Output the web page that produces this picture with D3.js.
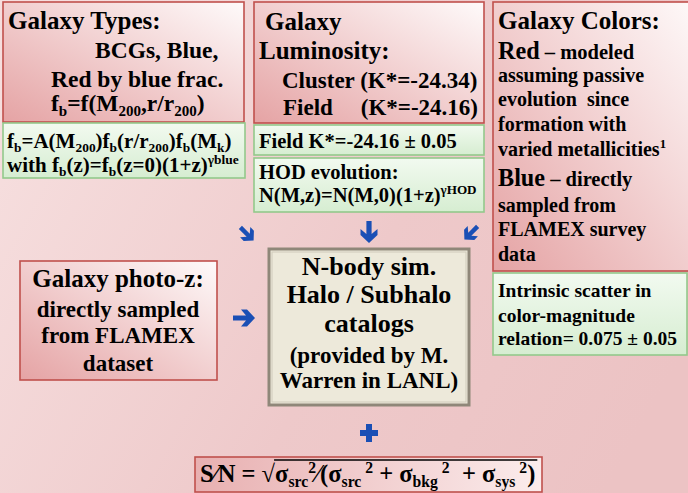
<!DOCTYPE html>
<html><head><meta charset="utf-8">
<script src="https://cdn.jsdelivr.net/npm/d3@7"></script>
<style>
html,body{margin:0;padding:0;overflow:hidden;background:#eec8c9;}
svg{display:block;}
</style>
</head><body>
<script>
// ---- content (text of each box) ----
const typesLines = ["Galaxy Types:", "BCGs, Blue,", "Red by blue frac.", "f_{b}=f(M_{200},r/r_{200})"];
const typesNote = ["f_{b}=A(M_{200})f_{b}(r/r_{200})f_{b}(M_{k})", "with f_{b}(z)=f_{b}(z=0)(1+z)^{γblue}"];
const lumLines = ["Galaxy", "Luminosity:", "Cluster (K*=-24.34)", "Field", "(K*=-24.16)"];
const lumNote = ["Field K*=-24.16 ± 0.05"];
const hodLines = ["HOD evolution:", "N(M,z)=N(M,0)(1+z)^{γHOD}"];
const colorLines = ["Galaxy Colors:", "!{Red} – modeled", "assuming passive", "evolution\u00a0 since", "formation with",
  "varied metallicities^{1}", "!{Blue} – directly", "sampled from", "FLAMEX survey", "data"];
const colorNote = ["Intrinsic scatter in", "color-magnitude", "relation= 0.075 ± 0.05"];
const photozLines = ["Galaxy photo-z:", "directly sampled", "from FLAMEX", "dataset"];
const nbodyLines = ["N-body sim.", "Halo / Subhalo", "catalogs", "(provided by M.", "Warren in LANL)"];
const snLine = "S⁄N = √σ_{src}^{2}⁄(σ_{src}^{\u00a02} + σ_{bkg}^{\u00a02}\u00a0 + σ_{sys}^{\u00a02})";

// ---- layout ----
const W = 688, H = 493;
const FONT = "Liberation Serif";
const svg = d3.select("body").append("svg").attr("width", W).attr("height", H);
const defs = svg.append("defs");

function grad(id, x1, y1, x2, y2, stops) {
  const g = defs.append("linearGradient").attr("id", id)
    .attr("x1", x1).attr("y1", y1).attr("x2", x2).attr("y2", y2);
  stops.forEach(s => g.append("stop").attr("offset", s[0]).attr("stop-color", s[1]));
}
grad("bg", 0, 0.3, 1, 0.7, [[0, "#f6dede"], [0.55, "#eec9ca"], [1, "#ecc3c4"]]);
grad("red", 1, 0, 0, 1, [[0, "#fefafa"], [1, "#e5a3a4"]]);
grad("green", 0, 0, 0, 1, [[0, "#f2faf0"], [1, "#d6edd1"]]);
grad("sn", 0, 0, 1, 0, [[0, "#e8b0b1"], [1, "#fbecec"]]);

svg.append("rect").attr("width", W).attr("height", H).attr("fill", "url(#bg)");

function box(x, y, w, h, kind) {
  const fill = kind === "green" ? "url(#green)" : kind === "sn" ? "url(#sn)" : "url(#red)";
  const stroke = kind === "green" ? "#93c98b" : "#c0504d";
  svg.append("rect").attr("x", x).attr("y", y).attr("width", w).attr("height", h)
    .attr("fill", fill).attr("stroke", stroke).attr("stroke-width", 1.6);
}

function parse(s) {
  const out = []; let i = 0, buf = "";
  while (i < s.length) {
    const c = s[i];
    if ((c === "_" || c === "^" || c === "!") && s[i + 1] === "{") {
      if (buf) { out.push({ t: buf, m: "n" }); buf = ""; }
      const j = s.indexOf("}", i + 2);
      out.push({ t: s.slice(i + 2, j), m: c === "_" ? "sub" : c === "^" ? "sup" : "big" });
      i = j + 1;
    } else { buf += c; i++; }
  }
  if (buf) out.push({ t: buf, m: "n" });
  return out;
}

function line(str, x, y, fs, anchor, subK) {
  const t = svg.append("text").attr("x", x).attr("y", y)
    .attr("text-anchor", anchor || "start").attr("font-size", fs)
    .attr("font-family", FONT).attr("font-weight", "bold").attr("fill", "#000");
  let shift = 0;
  parse(str).forEach(seg => {
    let target = 0, size = fs;
    if (seg.m === "sub") { target = (subK || 0.26) * fs; size = 0.64 * fs; }
    else if (seg.m === "sup") { target = -0.38 * fs; size = 0.64 * fs; }
    else if (seg.m === "big") { size = 1.18 * fs; }
    t.append("tspan").attr("dy", target - shift).attr("font-size", size).text(seg.t);
    shift = target;
  });
  return t;
}

function block(lines, layout) {
  lines.forEach((s, i) => { const L = layout[i]; line(s, L[0], L[1], L[2], L[3], L[4]); });
}

// boxes
box(3, 2, 241, 120, "red");
box(3, 123, 242, 55, "green");
box(254, 2, 230, 121, "red");
box(254, 125, 230, 30, "green");
box(254, 158, 230, 54, "green");
box(493, 2, 205, 269, "red");
box(493, 273, 194, 82, "green");
box(20, 261, 197, 119, "red");

// central box (double grey frame)
svg.append("rect").attr("x", 269).attr("y", 249).attr("width", 200).attr("height", 156)
  .attr("fill", "#ede9da").attr("stroke", "#8f8779").attr("stroke-width", 3);
svg.append("rect").attr("x", 272).attr("y", 252).attr("width", 194).attr("height", 150)
  .attr("fill", "none").attr("stroke", "#cfcaba").attr("stroke-width", 1);

box(195, 457, 347, 35, "sn");

// texts
block(typesLines, [[8, 29, 25], [95, 58, 23.5], [51, 87, 23.5], [51, 111, 23.5, "start", 0.22]]);
block(typesNote, [[7, 148, 21, "start", 0.2], [7, 172, 21, "start", 0.2]]);
block(lumLines, [[265, 30, 25], [259, 59, 25], [282, 88, 23], [283, 115, 23], [478, 115, 23, "end"]]);
block(lumNote, [[259, 148, 20.5]]);
block(hodLines, [[259, 179, 20.5], [259, 202, 20.5]]);
block(colorLines, [[498, 29, 25], [498, 59, 20.5], [498, 82, 20], [498, 106, 20], [498, 131, 20],
  [498, 156, 20], [498, 186, 20.5], [498, 212, 20], [498, 236, 20], [498, 261, 20]]);
block(colorNote, [[498, 297, 19.5], [498, 322, 19.5], [498, 345, 19.5]]);
block(photozLines, [[118, 287, 25, "middle"], [118, 317, 23, "middle"], [118, 343, 23, "middle"], [118, 371, 23, "middle"]]);
block(nbodyLines, [[369, 275, 26, "middle"], [369, 303, 26, "middle"], [369, 332, 26, "middle"],
  [369, 363, 23, "middle"], [369, 388, 23, "middle"]]);

// S/N formula with radical overline
const sn = line(snLine, 200, 482, 24.5, "start", 0.22);
(function () {
  const n = sn.node();
  const full = n.textContent;
  const k = full.indexOf("√");
  const x0 = n.getEndPositionOfChar(k).x;
  const x1 = n.getEndPositionOfChar(full.length - 1).x;
  svg.append("line").attr("x1", x0 - 1).attr("x2", x1 + 2).attr("y1", 460).attr("y2", 460)
    .attr("stroke", "#000").attr("stroke-width", 1.3);
})();

// arrows
const blue = "#1a4fb5";
const arrowPath = "M-11,-2.6 L2,-2.6 L-3,-8.5 L3,-8.5 L11,0 L3,8.5 L-3,8.5 L2,2.6 L-11,2.6 Z";
[[244, 318, 0, 1], [369, 232, 90, 1], [247, 234, 45, 0.85], [471, 233, 135, 0.85]].forEach(a => {
  svg.append("path").attr("d", arrowPath).attr("fill", blue)
    .attr("transform", `translate(${a[0]},${a[1]}) rotate(${a[2]}) scale(${a[3]})`);
});
svg.append("path").attr("fill", blue)
  .attr("d", "M-3,-9 H3 V-3 H9 V3 H3 V9 H-3 V3 H-9 V-3 H-3 Z")
  .attr("transform", "translate(369,433)");
</script>
</body></html>
